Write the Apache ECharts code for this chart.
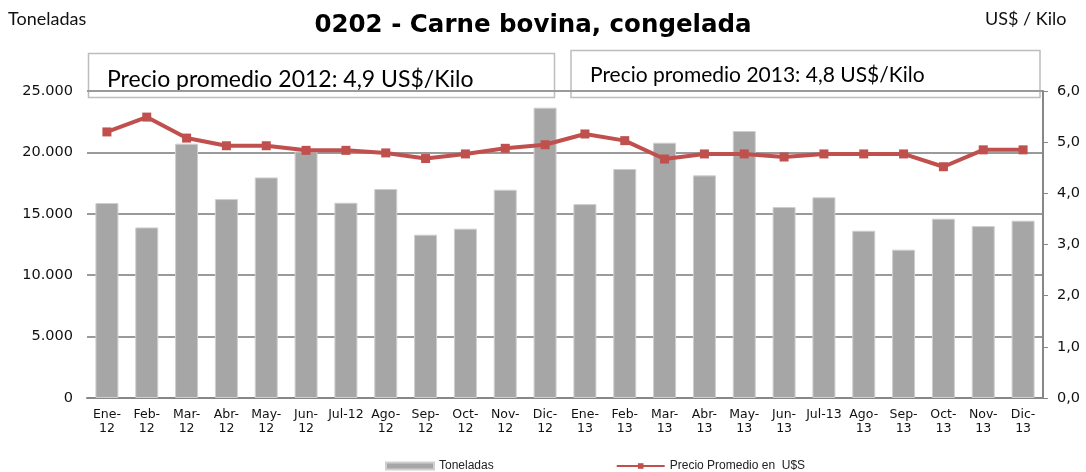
<!DOCTYPE html>
<html>
<head>
<meta charset="utf-8">
<title>0202 - Carne bovina, congelada</title>
<script src="https://cdn.jsdelivr.net/npm/echarts@6/dist/echarts.min.js"></script>
<style>
  html, body { margin: 0; padding: 0; background: #fff; }
  #chart { width: 1086px; height: 472px; }
</style>
</head>
<body>
<div id="chart"></div>
<script>
// meses
var categories = [
  "Ene-12", "Feb-12", "Mar-12", "Abr-12", "May-12", "Jun-12",
  "Jul-12", "Ago-12", "Sep-12", "Oct-12", "Nov-12", "Dic-12",
  "Ene-13", "Feb-13", "Mar-13", "Abr-13", "May-13", "Jun-13",
  "Jul-13", "Ago-13", "Sep-13", "Oct-13", "Nov-13", "Dic-13"
];

// toneladas (barras)
var toneladas = [
  15880, 13890, 20710, 16200, 17960, 20080,
  15900, 17020, 13300, 13790, 16960, 23640,
  15790, 18650, 20790, 18130, 21740, 15550,
  16340, 13620, 12080, 14600, 14000, 14440
];

// precio promedio US$/kilo (linea)
var precio = [
  5.20, 5.49, 5.08, 4.93, 4.93, 4.84,
  4.84, 4.79, 4.68, 4.77, 4.88, 4.95,
  5.16, 5.03, 4.67, 4.77, 4.77, 4.71,
  4.77, 4.77, 4.77, 4.52, 4.85, 4.85
];

var leftTicks = { min: 0, max: 25000, interval: 5000 };
var rightTicks = { min: 0, max: 6, interval: 1 };

var notas = [
  "Precio promedio 2012: 4,9 US$/Kilo",
  "Precio promedio 2013: 4,8 US$/Kilo"
];

var chart = echarts.init(document.getElementById("chart"));

function miles(v) {
  return String(v).replace(/\B(?=(\d{3})+(?!\d))/g, ".");
}

var option = {
  animation: false,
  title: {
    text: "0202 - Carne bovina, congelada",
    left: 528,
    top: 8,
    textAlign: "center",
    textStyle: {
      fontFamily: "DejaVu Sans",
      fontWeight: "bold",
      fontSize: 24.5,
      color: "#000"
    }
  },
  grid: { left: 87, right: 43, top: 91, bottom: 74 },
  legend: {
    left: 380,
    top: 455,
    itemWidth: 48,
    itemHeight: 7,
    itemGap: 122,
    textStyle: { fontFamily: "Liberation Sans", fontSize: 12, color: "#222" },
    data: [
      { name: "Toneladas", icon: "rect" },
      { name: "Precio Promedio en  U$S" }
    ]
  },
  xAxis: {
    type: "category",
    data: categories,
    axisLine: { lineStyle: { color: "#878787", width: 2 } },
    axisTick: { show: false },
    axisLabel: {
      interval: 0,
      fontFamily: "DejaVu Sans",
      fontSize: 12.5,
      lineHeight: 14,
      color: "#111",
      margin: 10,
      formatter: function (v) {
        return v.indexOf("Jul") === 0 ? v : v.replace("-", "-\n");
      }
    }
  },
  yAxis: [
    {
      type: "value",
      min: leftTicks.min,
      max: leftTicks.max,
      interval: leftTicks.interval,
      axisLine: { show: false },
      axisTick: { show: false },
      splitLine: { lineStyle: { color: "#9a9a9a", width: 2 } },
      axisLabel: {
        fontFamily: "DejaVu Sans",
        fontSize: 14.5,
        color: "#111",
        margin: 14,
        formatter: miles
      }
    },
    {
      type: "value",
      min: rightTicks.min,
      max: rightTicks.max,
      interval: rightTicks.interval,
      position: "right",
      axisLine: { show: true, lineStyle: { color: "#878787", width: 2 } },
      axisTick: { show: true, length: 5, lineStyle: { color: "#878787", width: 1 } },
      splitLine: { show: false },
      axisLabel: {
        fontFamily: "DejaVu Sans",
        fontSize: 14.5,
        color: "#111",
        margin: 14,
        formatter: function (v) { return v.toFixed(1).replace(".", ","); }
      }
    }
  ],
  series: [
    {
      name: "Toneladas",
      type: "bar",
      yAxisIndex: 0,
      barWidth: 23,
      itemStyle: { color: "#a6a6a6", borderColor: "#cfcfcf", borderWidth: 1 },
      data: toneladas
    },
    {
      name: "Precio Promedio en  U$S",
      type: "line",
      yAxisIndex: 1,
      symbol: "rect",
      symbolSize: 9,
      lineStyle: { color: "#c0504d", width: 4 },
      itemStyle: { color: "#c0504d" },
      z: 5,
      data: precio
    }
  ],
  graphic: [
    {
      type: "text",
      left: 8,
      top: 10,
      style: { text: "Toneladas", fontFamily: "Lato", fontSize: 18, fill: "#111" }
    },
    {
      type: "text",
      left: 985,
      top: 10,
      style: { text: "US$ / Kilo", fontFamily: "Lato", fontSize: 18, fill: "#111" }
    },
    {
      type: "group",
      z: 100,
      children: [
        {
          type: "rect",
          shape: { x: 88.5, y: 53.5, width: 466, height: 44 },
          style: { fill: "#fff", stroke: "#bdbdbd", lineWidth: 1.5 }
        },
        {
          type: "text",
          x: 107,
          y: 80,
          style: {
            text: notas[0], fontFamily: "Lato", fontSize: 23, fill: "#000",
            verticalAlign: "middle"
          }
        },
        {
          type: "rect",
          shape: { x: 571, y: 50.5, width: 469, height: 47 },
          style: { fill: "#fff", stroke: "#bdbdbd", lineWidth: 1.5 }
        },
        {
          type: "text",
          x: 590,
          y: 75,
          style: {
            text: notas[1], fontFamily: "Lato", fontSize: 21, fill: "#000",
            verticalAlign: "middle"
          }
        }
      ]
    }
  ]
};

chart.setOption(option);
</script>
</body>
</html>
